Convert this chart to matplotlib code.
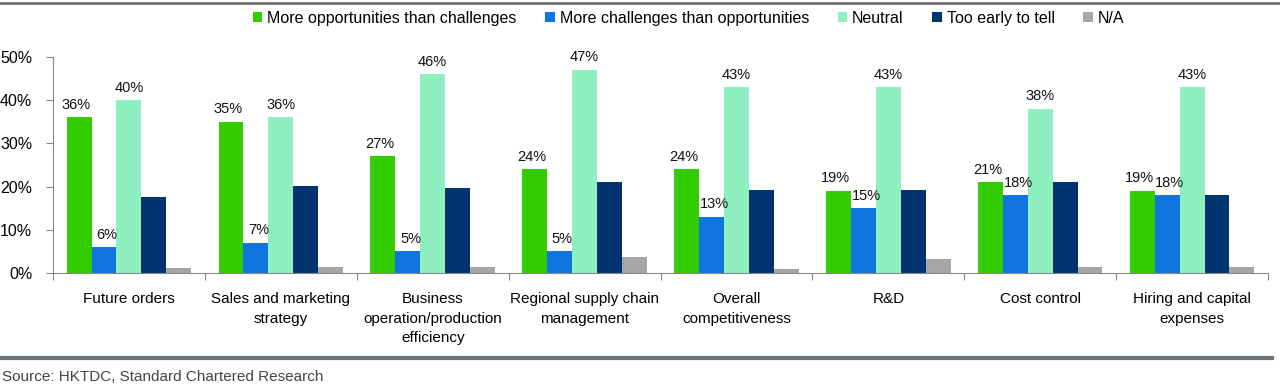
"""
Opportunities vs challenges survey chart
"""

from matplotlib import pyplot as plt
from matplotlib.lines import Line2D
import numpy as np

plt.rcParams['font.family'] = ['Liberation Sans', 'DejaVu Sans']

categories = ["Future orders", "Sales and marketing\nstrategy",
              "Business\noperation/production\nefficiency",
              "Regional supply chain\nmanagement", "Overall\ncompetitiveness",
              "R&D", "Cost control", "Hiring and capital\nexpenses"]
series = ["More opportunities than challenges", "More challenges than opportunities",
          "Neutral", "Too early to tell", "N/A"]
more_opp = [36, 35, 27, 24, 24, 19, 21, 19]
more_chal = [6, 7, 5, 5, 13, 15, 18, 18]
neutral = [40, 36, 46, 47, 43, 43, 38, 43]
too_early = [17.7, 20.2, 19.6, 21.0, 19.2, 19.2, 21.0, 18.0]
na = [1.1, 1.3, 1.5, 3.7, 1.0, 3.2, 1.3, 1.5]
labelled = [True, True, True, False, False]

colors = ["#33CC00", "#1175E0", "#8EF0BE", "#003470", "#A6A6A6"]
values = [more_opp, more_chal, neutral, too_early, na]
# small sideways nudge so neighbouring labels don't collide
nudge = [-2, 2, 0, 0, 0]

fig = plt.figure(figsize=(12.8, 3.88), dpi=100)
ax = fig.add_axes([53 / 1280, 1 - 273 / 388, 1215 / 1280, 216 / 388])

x = np.arange(len(categories))
w = 0.164
for i, (name, vals) in enumerate(zip(series, values)):
    pos = x + (i - 2) * w
    ax.bar(pos, vals, w, color=colors[i], label=name)
    if labelled[i]:
        for xp, v in zip(pos, vals):
            ax.annotate(f"{v:.0f}%", (xp, v), xytext=(nudge[i], 4), textcoords="offset points",
                        ha="center", va="bottom", fontsize=10.5, color="#111111",
                        annotation_clip=False)

ax.set_xlim(-0.5, len(categories) - 0.5)
ax.set_ylim(0, 50)
ax.set_yticks(range(0, 51, 10))
ax.set_yticklabels([f"{t}%" for t in range(0, 51, 10)], fontsize=11.5)
ax.set_xticks(np.arange(len(categories) + 1) - 0.5)
ax.set_xticklabels([])
ax.set_xticks(x, minor=True)
ax.set_xticklabels(categories, minor=True, fontsize=11, linespacing=1.5)
ax.tick_params(axis="x", which="minor", length=0, pad=14)
ax.tick_params(axis="x", which="major", length=5, color="#888888")
ax.tick_params(axis="y", length=5, color="#888888", pad=10)
for s in ["top", "right"]:
    ax.spines[s].set_visible(False)
for s in ["left", "bottom"]:
    ax.spines[s].set_color("#888888")

ax.legend(loc="center", bbox_to_anchor=(0.523, 1.18), ncol=5, frameon=False,
          fontsize=11.5, handlelength=0.6, handleheight=0.6, handletextpad=0.3,
          columnspacing=1.8, borderaxespad=0)

fig.add_artist(Line2D([0, 1], [1 - 3 / 388, 1 - 3 / 388], color="#6D7278", lw=2))
fig.add_artist(Line2D([0, 1272 / 1280], [1 - 358 / 388, 1 - 358 / 388], color="#6D7278", lw=3))
fig.text(2 / 1280, 1 - 377 / 388, "Source: HKTDC, Standard Chartered Research",
         fontsize=11, color="#444444", va="center")

fig.savefig("out.png", dpi=100)
